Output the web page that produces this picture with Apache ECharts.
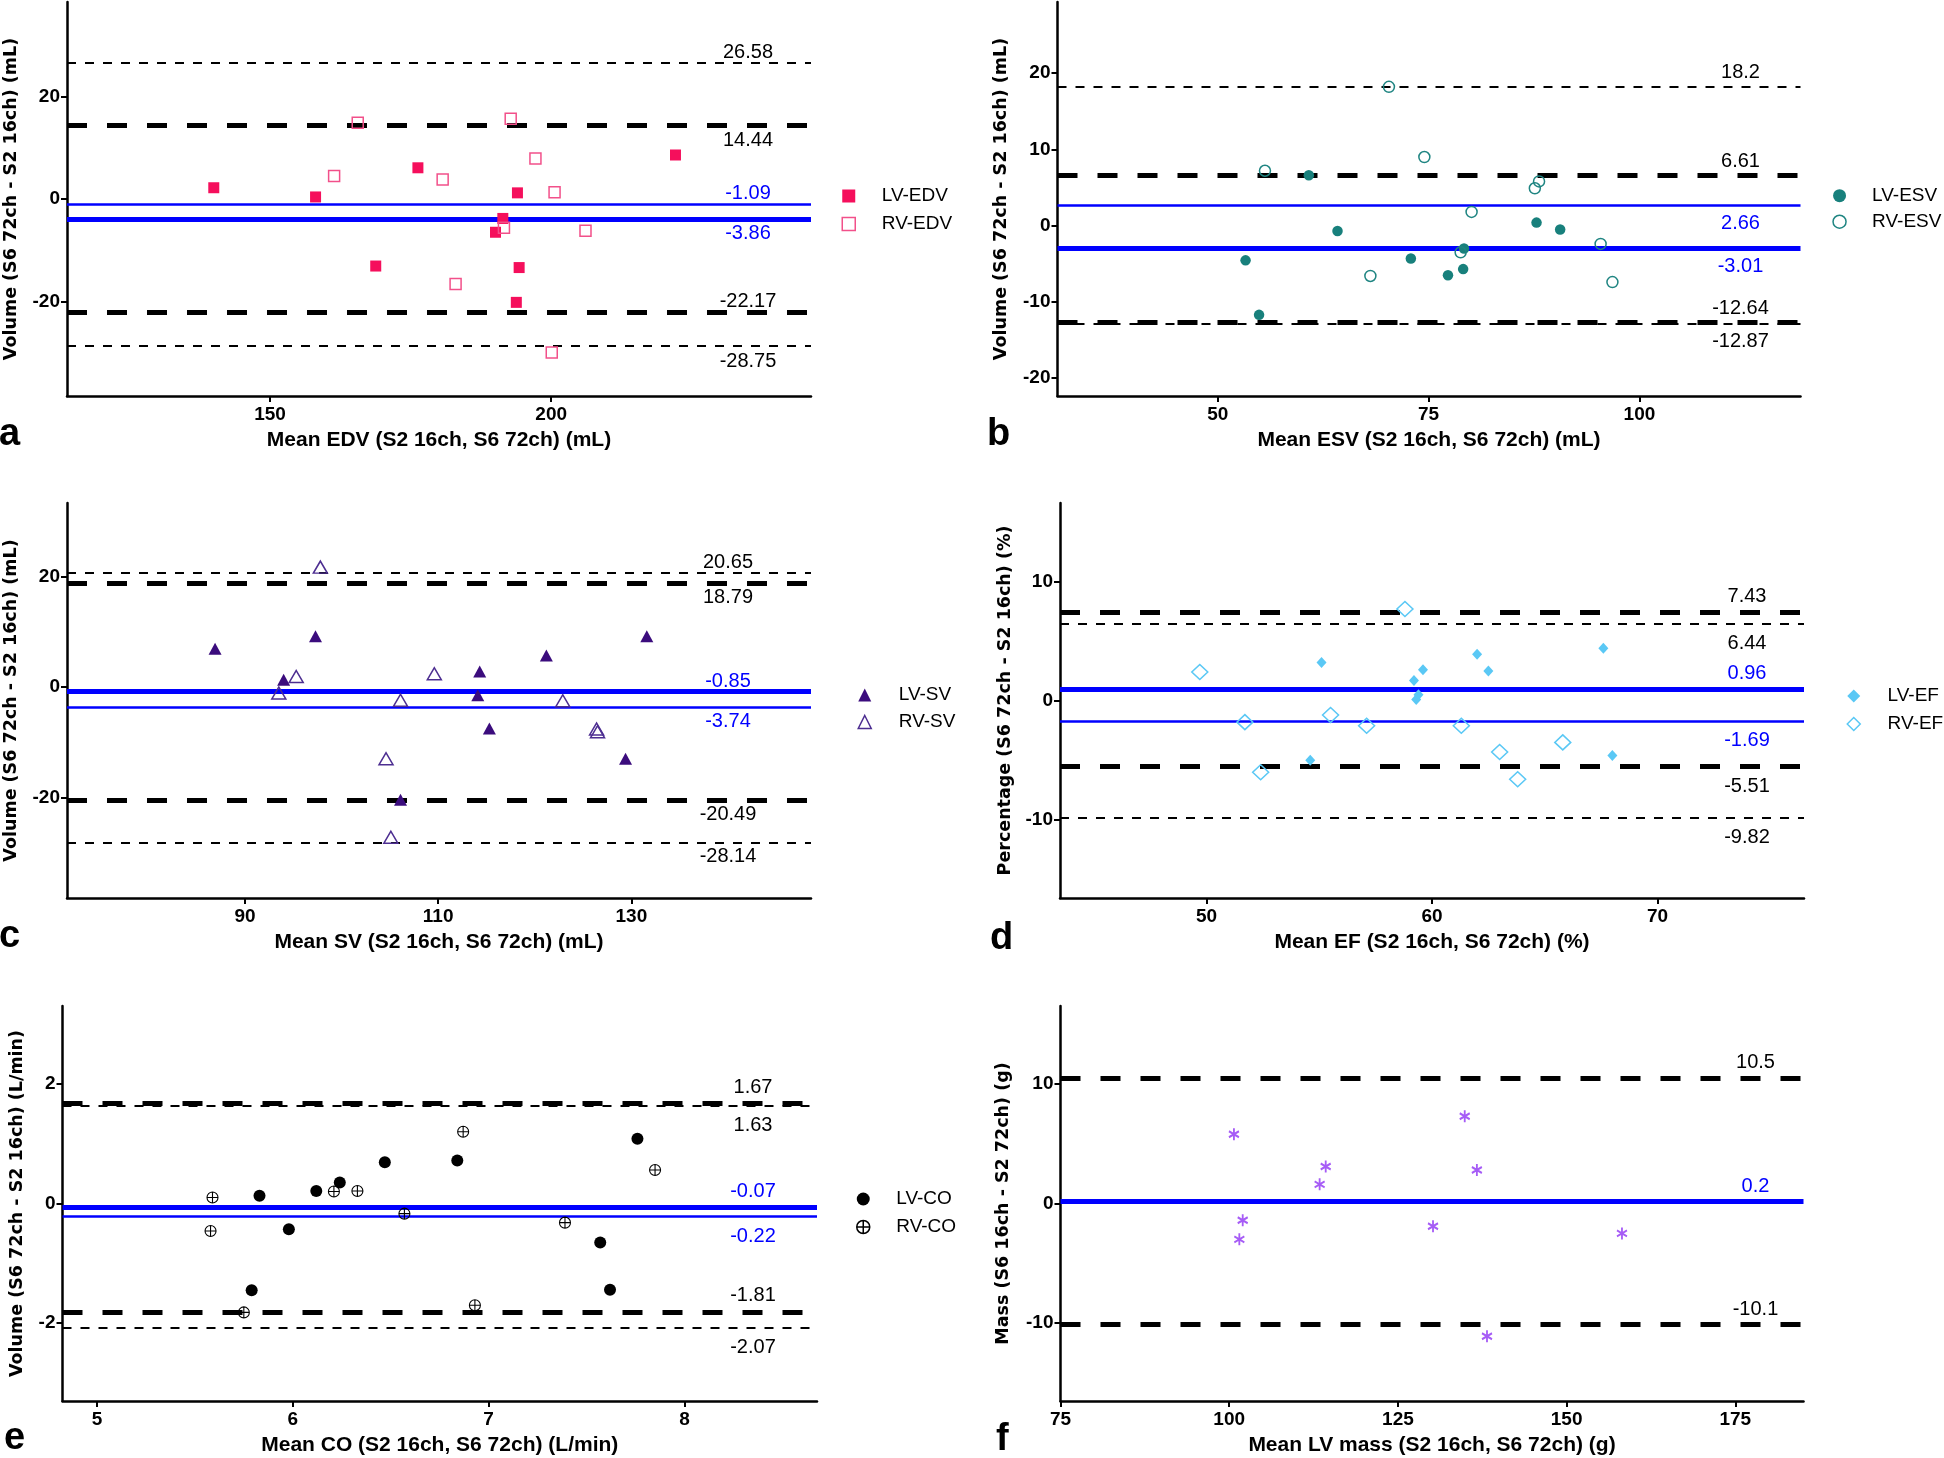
<!DOCTYPE html>
<html><head><meta charset="utf-8">
<script src="https://cdn.jsdelivr.net/npm/echarts@6/dist/echarts.min.js"></script>
<style>html,body{margin:0;padding:0;background:#fff}#c{width:1944px;height:1458px}</style>
</head><body><div id="c"></div>
<script>
// ---------- DATA ----------
// a: EDV
const edvMeanLV = [140.0, 158.1, 176.3, 168.8, 191.4, 190.1, 194.0, 194.3, 193.8, 222.1];
const edvDiffLV = [2.2, 0.4, 6.1, -13.1, -3.8, -6.5, 1.2, -13.4, -20.2, 8.6];
const edvMeanRV = [165.6, 192.8, 161.4, 180.7, 197.2, 200.6, 191.6, 206.1, 183.0, 200.1];
const edvDiffRV = [14.9, 15.7, 4.5, 3.8, 7.9, 1.3, -5.6, -6.2, -16.6, -30.0];
const edvLimitsLV = [-3.86, 14.44, -22.17];   // mean, upper, lower
const edvLimitsRV = [-1.09, 26.58, -28.75];
const edvXTicks = [150, 200];
const edvYTicks = [-20, 0, 20];
// b: ESV
const esvMeanLV = [53.3, 54.9, 60.8, 64.2, 72.9, 77.3, 79.1, 79.2, 87.8, 90.6];
const esvDiffLV = [-4.55, -11.7, 6.6, -0.7, -4.3, -6.5, -5.7, -3.0, 0.4, -0.5];
const esvMeanRV = [55.6, 70.3, 74.5, 87.6, 88.1, 80.1, 78.8, 68.1, 95.4, 96.8];
const esvDiffRV = [7.2, 18.2, 9.0, 4.9, 5.8, 1.8, -3.5, -6.6, -2.4, -7.4];
const esvLimitsLV = [-3.01, 6.61, -12.64];
const esvLimitsRV = [2.66, 18.2, -12.87];
const esvXTicks = [50, 75, 100];
const esvYTicks = [-20, -10, 0, 10, 20];
// c: SV
const svMeanLV = [86.9, 94.0, 97.3, 114.3, 114.1, 115.3, 121.2, 131.6, 129.4, 106.1];
const svDiffLV = [6.9, 1.3, 9.2, 2.8, -1.5, -7.5, 5.7, 9.2, -13.0, -20.4];
const svMeanRV = [97.8, 93.5, 95.3, 109.6, 106.1, 122.9, 126.4, 126.5, 104.6, 105.1];
const svDiffRV = [21.7, -1.1, 1.9, 2.4, -2.4, -2.5, -7.6, -8.1, -13.0, -27.2];
const svLimitsLV = [-0.85, 18.79, -20.49];
const svLimitsRV = [-3.74, 20.65, -28.14];
const svXTicks = [90, 110, 130];
const svYTicks = [-20, 0, 20];
// d: EF
const efMeanLV = [55.1, 54.6, 59.2, 59.6, 59.4, 59.3, 62.0, 62.5, 67.6, 68.0];
const efDiffLV = [3.2, -5.0, 1.7, 2.6, 0.5, 0.1, 3.9, 2.5, 4.4, -4.6];
const efMeanRV = [49.7, 51.7, 52.4, 55.5, 57.1, 58.8, 61.3, 63.0, 63.8, 65.8];
const efDiffRV = [2.4, -1.8, -6.0, -1.2, -2.1, 7.7, -2.1, -4.3, -6.6, -3.5];
const efLimitsLV = [0.96, 7.43, -5.51];
const efLimitsRV = [-1.69, 6.44, -9.82];
const efXTicks = [50, 60, 70];
const efYTicks = [-10, 0, 10];
// e: CO
const coMeanLV = [5.83, 5.79, 5.98, 6.12, 6.24, 6.47, 6.84, 7.57, 7.62, 7.76];
const coDiffLV = [0.13, -1.45, -0.43, 0.21, 0.35, 0.69, 0.72, -0.65, -1.44, 1.08];
const coMeanRV = [5.59, 5.58, 5.75, 6.21, 6.33, 6.57, 6.87, 6.93, 7.39, 7.85];
const coDiffRV = [0.10, -0.46, -1.82, 0.20, 0.21, -0.17, 1.20, -1.70, -0.32, 0.56];
const coLimitsLV = [-0.07, 1.67, -1.81];
const coLimitsRV = [-0.22, 1.63, -2.07];
const coXTicks = [5, 6, 7, 8];
const coYTicks = [-2, 0, 2];
// f: LV mass
const massMean = [100.7, 102.0, 101.5, 113.4, 114.3, 130.2, 134.9, 136.7, 138.2, 158.2];
const massDiff = [5.8, -1.4, -3.0, 1.6, 3.1, -1.9, 7.3, 2.8, -11.1, -2.5];
const massLimits = [0.2, 10.5, -10.1];
const massXTicks = [75, 100, 125, 150, 175];
const massYTicks = [-10, 0, 10];

// ---------- STYLE / LAYOUT ----------
const FONT = "'Liberation Sans', Arial, Helvetica, sans-serif";
const YFONT = "'DejaVu Sans', Verdana, sans-serif";
const BLUE = '#0000FF';
const zip = (xs, ys) => xs.map((x, i) => [x, ys[i]]);

const panels = [
  {grid: {left: 67, top: 2, width: 744, height: 394}, x: [113.9, 246.2], y: [-38.5, 38.5], xt: edvXTicks, yt: edvYTicks,
   xName: 'Mean EDV (S2 16ch, S6 72ch) (mL)', yName: 'Volume (S6 72ch - S2 16ch) (mL)', yGap: 47, lab: {dx: 63, top: 1, bot: 5}},
  {grid: {left: 1057.5, top: 2, width: 743, height: 394}, x: [31.0, 119.1], y: [-22.34, 29.33], xt: esvXTicks, yt: esvYTicks,
   xName: 'Mean ESV (S2 16ch, S6 72ch) (mL)', yName: 'Volume (S6 72ch - S2 16ch) (mL)', yGap: 47, lab: {dx: 60, top: 4, bot: 8}},
  {grid: {left: 67, top: 503, width: 744, height: 395}, x: [71.57, 148.6], y: [-38.2, 33.3], xt: svXTicks, yt: svYTicks,
   xName: 'Mean SV (S2 16ch, S6 72ch) (mL)', yName: 'Volume (S6 72ch - S2 16ch) (mL)', yGap: 47, lab: {dx: 83, top: 0, bot: 4}},
  {grid: {left: 1060, top: 503, width: 744, height: 395}, x: [43.5, 76.5], y: [-16.56, 16.59], xt: efXTicks, yt: efYTicks,
   xName: 'Mean EF (S2 16ch, S6 72ch) (%)', yName: 'Percentage (S6 72ch - S2 16ch) (%)', yGap: 46, lab: {dx: 57, top: 6, bot: 10}},
  {grid: {left: 62.5, top: 1006, width: 754.5, height: 395}, x: [4.824, 8.677], y: [-3.30, 3.30], xt: coXTicks, yt: coYTicks,
   xName: 'Mean CO (S2 16ch, S6 72ch) (L/min)', yName: 'Volume (S6 72ch - S2 16ch) (L/min)', yGap: 36, lab: {dx: 64, top: 6, bot: 10}},
  {grid: {left: 1060.5, top: 1006, width: 743, height: 395}, x: [75, 185.1], y: [-16.52, 16.52], xt: massXTicks, yt: massYTicks,
   xName: 'Mean LV mass (S2 16ch, S6 72ch) (g)', yName: 'Mass (S6 16ch - S2 72ch) (g)', yGap: 48, lab: {dx: 48, top: 5, bot: 9}}
];

function lines(limits, thick, sides, lab) {
  return {
    silent: true, symbol: ['none', 'none'], z: 1, animation: false,
    data: limits.map((v, k) => ({
      yAxis: v,
      lineStyle: {color: k === 0 ? BLUE : '#000', width: thick ? 5 : (k === 0 ? 2.5 : 2), opacity: 1,
                  type: k === 0 ? 'solid' : (thick ? [20, 20] : [9, 9])},
      label: {show: true, formatter: String(v), position: sides[k] === 'T' ? 'insideEndTop' : 'insideEndBottom',
              align: 'center', distance: [lab.dx, sides[k] === 'T' ? lab.top : lab.bot],
              color: k === 0 ? BLUE : '#000', fontFamily: FONT, fontSize: 20}
    }))
  };
}

const grids = [], xAxes = [], yAxes = [];
panels.forEach((p, i) => {
  grids.push(Object.assign({outerBoundsMode: 'none', containLabel: false}, p.grid));
  xAxes.push({type: 'value', gridIndex: i, min: p.x[0], max: p.x[1], name: p.xName, nameLocation: 'middle', nameGap: 34,
    nameTextStyle: {fontFamily: FONT, fontWeight: 'bold', fontSize: 21, color: '#000'},
    axisLine: {show: true, onZero: false, lineStyle: {color: '#000', width: 2.5}},
    axisTick: {show: true, length: 6, lineStyle: {color: '#000', width: 2}, customValues: p.xt},
    axisLabel: {customValues: p.xt, margin: 9, fontFamily: FONT, fontWeight: 'bold', fontSize: 19, color: '#000'},
    splitLine: {show: false}});
  yAxes.push({type: 'value', gridIndex: i, min: p.y[0], max: p.y[1], name: p.yName, nameLocation: 'middle', nameGap: p.yGap,
    nameTextStyle: {fontFamily: YFONT, fontWeight: 'bold', fontSize: 17.5, color: '#000'},
    axisLine: {show: true, onZero: false, lineStyle: {color: '#000', width: 2.5}},
    axisTick: {show: true, length: 6, lineStyle: {color: '#000', width: 2}, customValues: p.yt},
    axisLabel: {customValues: p.yt, margin: 7, fontFamily: FONT, fontWeight: 'bold', fontSize: 19, color: '#000'},
    splitLine: {show: false}});
});

const CLEAR = 'rgba(0,0,0,0)';
const PLUS = 'path://M0,10 A10,10 0 1 1 20,10 A10,10 0 1 1 0,10 Z M10,0 L10,20 M0,10 L20,10';
const STAR = 'path://M10,0 L10,20 M1.34,5 L18.66,15 M1.34,15 L18.66,5';

function sc(name, i, data, symbol, size, style, ml) {
  return {type: 'scatter', name, xAxisIndex: i, yAxisIndex: i, data, symbol, symbolSize: size,
          itemStyle: Object.assign({opacity: 1}, style), z: 3, animation: false, markLine: ml};
}
const L = panels.map(p => p.lab);
const series = [
  sc('LV-EDV', 0, zip(edvMeanLV, edvDiffLV), 'rect', 11, {color: '#F50F5C', borderWidth: 0}, lines(edvLimitsLV, true, ['B', 'B', 'T'], L[0])),
  sc('RV-EDV', 0, zip(edvMeanRV, edvDiffRV), 'rect', 11, {color: CLEAR, borderColor: '#F2508A', borderWidth: 1.5}, lines(edvLimitsRV, false, ['T', 'T', 'B'], L[0])),
  sc('LV-ESV', 1, zip(esvMeanLV, esvDiffLV), 'circle', 10.5, {color: '#18807C', borderWidth: 0}, lines(esvLimitsLV, true, ['B', 'T', 'T'], L[1])),
  sc('RV-ESV', 1, zip(esvMeanRV, esvDiffRV), 'circle', 11, {color: CLEAR, borderColor: '#1F8582', borderWidth: 1.5}, lines(esvLimitsRV, false, ['B', 'T', 'B'], L[1])),
  sc('LV-SV', 2, zip(svMeanLV, svDiffLV), 'triangle', [13, 12], {color: '#3B0C7D', borderWidth: 0}, lines(svLimitsLV, true, ['T', 'B', 'B'], L[2])),
  sc('RV-SV', 2, zip(svMeanRV, svDiffRV), 'triangle', [14, 12], {color: CLEAR, borderColor: '#4D2E91', borderWidth: 1.5}, lines(svLimitsRV, false, ['B', 'T', 'B'], L[2])),
  sc('LV-EF', 3, zip(efMeanLV, efDiffLV), 'diamond', [10, 11], {color: '#5AC8F5', borderWidth: 0}, lines(efLimitsLV, true, ['T', 'T', 'B'], L[3])),
  sc('RV-EF', 3, zip(efMeanRV, efDiffRV), 'diamond', [16, 15], {color: CLEAR, borderColor: '#5AC8F5', borderWidth: 1.5}, lines(efLimitsRV, false, ['B', 'B', 'B'], L[3])),
  sc('LV-CO', 4, zip(coMeanLV, coDiffLV), 'circle', 12, {color: '#000', borderWidth: 0}, lines(coLimitsLV, true, ['T', 'T', 'T'], L[4])),
  sc('RV-CO', 4, zip(coMeanRV, coDiffRV), PLUS, 11, {color: CLEAR, borderColor: '#000', borderWidth: 1.1}, lines(coLimitsRV, false, ['B', 'B', 'B'], L[4])),
  sc('LV mass', 5, zip(massMean, massDiff), STAR, [10, 12], {color: CLEAR, borderColor: '#A65CF6', borderWidth: 2}, lines(massLimits, true, ['T', 'T', 'T'], L[5]))
];

function leg(names, left, top, gap, pad) {
  return {data: [{name: names[0], itemStyle: {opacity: 1}}, {name: names[1], itemStyle: {borderWidth: 1.5, opacity: 1}}],
          orient: 'vertical', left, top,
          itemWidth: 13, itemHeight: 13, itemGap: gap, padding: 0, selectedMode: false,
          textStyle: {fontFamily: FONT, fontSize: 19, color: '#000', padding: [0, 0, 0, pad]}};
}
const legends = [
  leg(['LV-EDV', 'RV-EDV'], 841.5, 186.5, 9, 21.5),
  leg(['LV-ESV', 'RV-ESV'], 1832.3, 186.2, 7, 21),
  leg(['LV-SV', 'RV-SV'], 857.5, 685.5, 8, 22.5),
  leg(['LV-EF', 'RV-EF'], 1846.5, 686.5, 9, 22.3),
  leg(['LV-CO', 'RV-CO'], 856, 1189.5, 9, 21.5)
];

const letters = [['a', -1, 415.7], ['b', 987, 415.7], ['c', -1, 917.7], ['d', 990, 919.7], ['e', 4, 1419.7], ['f', 996, 1420.7]];
const titles = letters.map(l => ({text: l[0], left: l[1], top: l[2], padding: 0,
  textStyle: {fontFamily: FONT, fontWeight: 'bold', fontSize: 38, color: '#000'}}));

const chart = echarts.init(document.getElementById('c'), null, {renderer: 'canvas'});
chart.setOption({
  backgroundColor: '#fff', animation: false,
  title: titles, grid: grids, xAxis: xAxes, yAxis: yAxes, legend: legends, series
});
</script></body></html>
